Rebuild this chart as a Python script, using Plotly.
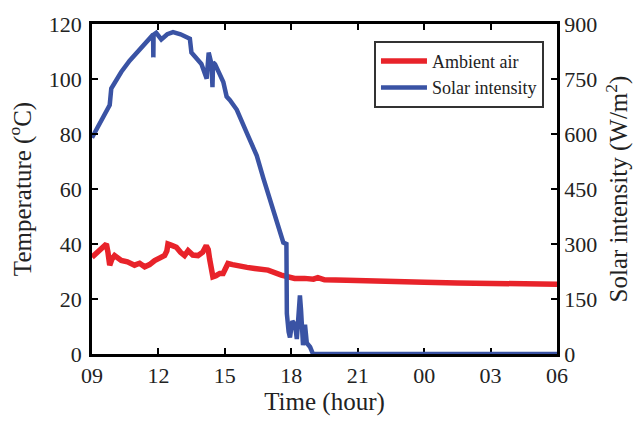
import plotly.graph_objects as go

# Time in hours since midnight of day 1 (09:00 -> 9, 06:00 next day -> 30)
time_air = [9.0, 9.2, 9.42, 9.65, 9.72, 9.80, 9.9, 10.02, 10.32, 10.6,
            10.92, 11.15, 11.38, 11.6, 11.83, 12.05, 12.28, 12.38, 12.43, 12.6,
            12.81, 13.0, 13.18, 13.34, 13.55, 13.79, 14.0, 14.16, 14.25, 14.31,
            14.40, 14.46, 14.6, 14.77, 14.92, 15.05, 15.14, 15.35, 15.59, 16.0,
            16.35, 16.95, 17.55, 18.15, 18.6, 19.0, 19.2, 19.5, 20.5, 21.5,
            22.5, 24.0, 25.5, 27.0, 28.5, 30.0]
temp_air = [35.2, 36.5, 38.2, 40.0, 37.0, 32.3, 34.5, 35.8, 34.0, 33.5,
            32.3, 33.0, 31.7, 32.5, 34.0, 34.8, 35.8, 37.5, 40.0, 39.5,
            38.8, 37.0, 35.8, 37.6, 36.0, 35.8, 37.0, 39.4, 38.0, 34.6,
            30.0, 28.1, 28.5, 29.3, 29.3, 31.5, 32.9, 32.5, 32.3, 31.5,
            31.1, 30.5, 28.7, 27.5, 27.5, 27.2, 27.8, 27.0, 26.8, 26.5,
            26.3, 26.1, 25.8, 25.6, 25.4, 25.4]

time_solar = [9.0, 9.42, 9.80, 9.87, 10.32, 10.70, 11.23, 11.50, 11.76, 11.77, 11.78,
              11.90, 12.13, 12.40, 12.66, 13.00, 13.34, 13.42, 13.49, 13.94, 14.18, 14.27, 14.40,
              14.44, 14.47, 14.56, 14.93, 15.08, 15.23, 15.54, 15.99, 16.22, 16.44, 16.74, 17.04,
              17.34, 17.64, 17.78, 17.80, 17.88, 17.94, 18.05, 18.17, 18.25, 18.30,
              18.39, 18.44, 18.47, 18.53, 18.58, 18.62, 18.70, 18.76, 18.85, 18.98,
              30.0]
solar = [590, 639, 679, 724, 769, 800, 836, 855, 871, 809, 871,
         876, 858, 872, 878, 872, 862, 860, 822, 791, 751, 822, 790,
         728, 795, 790, 742, 702, 692, 666, 603, 573, 541, 479, 418,
         367, 304, 300, 110, 60, 45, 90, 80, 41, 100,
         160, 120, 72, 24, 60, 80, 30, 27, 19, 0,
         0]

x_ticks = [9, 12, 15, 18, 21, 24, 27, 30]
x_ticktext = ["09", "12", "15", "18", "21", "00", "03", "06"]
y_ticks = [0, 20, 40, 60, 80, 100, 120]
y2_ticks = [0, 150, 300, 450, 600, 750, 900]

FONT = "Liberation Serif"
RED = "#e8232a"
BLUE = "#3a53a4"

fig = go.Figure()
fig.add_trace(go.Scatter(x=time_air, y=temp_air, mode="lines", name="Ambient air",
                         line=dict(color=RED, width=5.5), yaxis="y"))
fig.add_trace(go.Scatter(x=time_solar, y=solar, mode="lines", name="Solar intensity",
                         line=dict(color=BLUE, width=4.5), yaxis="y2"))

axis_common = dict(showline=True, linecolor="black", linewidth=2.5, ticks="inside",
                   ticklen=6, tickwidth=1.5, tickcolor="black", showgrid=False,
                   zeroline=False, tickfont=dict(family=FONT, size=22, color="#222"))

fig.update_layout(
    width=643, height=421,
    margin=dict(l=92, r=86, t=21, b=64),
    paper_bgcolor="white", plot_bgcolor="white",
    font=dict(family=FONT, color="#222"),
    xaxis=dict(range=[9, 30], tickvals=x_ticks, ticktext=x_ticktext, mirror="ticks",
               title=dict(text="Time (hour)", font=dict(family=FONT, size=25), standoff=3),
               layer="below traces", **axis_common),
    yaxis=dict(range=[0, 120], tickvals=y_ticks, ticklabelstandoff=3,
               title=dict(text="Temperature (<sup>o</sup>C)", font=dict(family=FONT, size=25), standoff=11),
               **axis_common),
    yaxis2=dict(range=[0, 900], tickvals=y2_ticks, overlaying="y", side="right",
                title=dict(text="Solar intensity (W/m<sup>2</sup>)", font=dict(family=FONT, size=25), standoff=14),
                **axis_common),
    legend=dict(x=0.972, y=0.949, xanchor="right", yanchor="top",
                bgcolor="white", bordercolor="#333", borderwidth=2,
                font=dict(family=FONT, size=18, color="#222"),
                itemwidth=46, tracegroupgap=0),
    showlegend=True,
)

fig.write_html("out.html")
